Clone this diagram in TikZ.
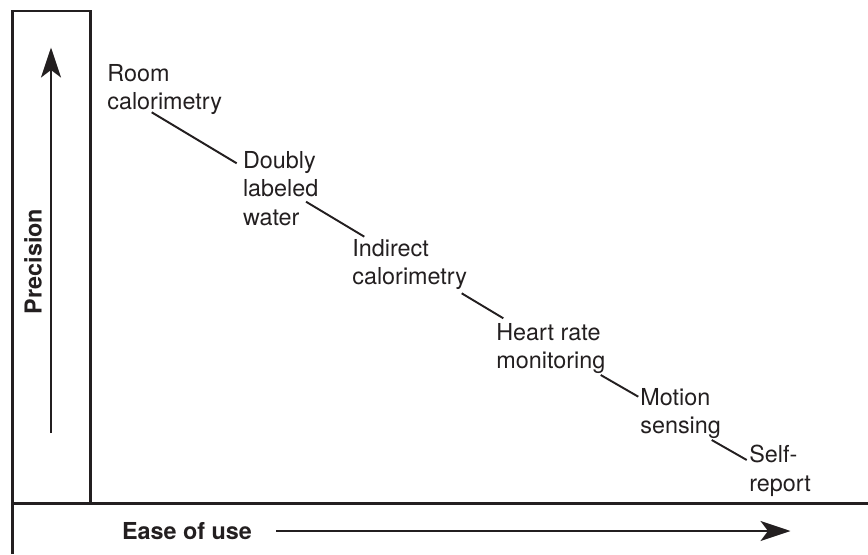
\documentclass[tikz,border=0pt]{standalone}
\usepackage{fontspec}
\setmainfont{TeX Gyre Heros}
\usetikzlibrary{arrows.meta, calc}
\definecolor{ink}{HTML}{231F20}

\begin{document}
\begin{tikzpicture}[
  lbl/.style={anchor=north west, inner sep=0pt, align=left, text=ink,
    font=\fontsize{13.3}{16.2}\selectfont},
  axlbl/.style={inner sep=0pt, text=ink, font=\fontsize{13.3}{16}\selectfont\bfseries},
  >={Stealth[length=6mm, width=4mm, inset=1.5mm]},
  frame/.style={draw=ink, line width=1.4pt},
  axis/.style={draw=ink, line width=1.3pt, ->},
  lead/.style={draw=ink, line width=1.1pt},
]

% Page size
\useasboundingbox (0,0) rectangle (17.36,11.08);

% Frame: tall box on the left, base line across the bottom
\draw[frame] (0.254,0) -- (0.254,10.86) -- (1.806,10.86) -- (1.806,1.014);
\draw[frame] (0.254,1.014) -- (17.36,1.014);

% Axes
\node[axlbl, rotate=90] (prec) at (0.66,5.85) {Precision};
\coordinate (ptail) at (1.02,2.42);
\coordinate (ptip) at (1.02,10.13);
\draw[axis] (ptail) -- (ptip);

\node[axlbl] (ease) at (3.74,0.46) {Ease of use};
\coordinate (etip) at (15.81,0.46);
\draw[axis] ($(ease.east)+(0.48,0)$) -- (etip);

% Methods, most precise first
\node[lbl] (room) at (2.14,9.80) {Room\\calorimetry};
\node[lbl] (doubly) at (4.854,8.066) {Doubly\\labeled\\water};
\node[lbl] (indirect) at (7.04,6.30) {Indirect\\calorimetry};
\node[lbl] (heart) at (9.92,4.626) {Heart rate\\monitoring};
\node[lbl] (motion) at (12.80,3.326) {Motion\\sensing};
\node[lbl] (self) at (14.98,2.18) {Self-\\report};

% Leaders between neighbours
\draw[lead] ($(room.north west)+(0.894,-0.966)$) -- ($(doubly.north west)+(-0.12,-0.252)$);
\draw[lead] ($(doubly.north west)+(1.266,-1.02)$) -- ($(indirect.north west)+(0.246,0.046)$);
\draw[lead] ($(indirect.north west)+(2.194,-1.086)$) -- ($(heart.north west)+(0.146,0.088)$);
\draw[lead] ($(heart.north west)+(2.094,-1.046)$) -- ($(motion.north west)+(-0.034,-0.18)$);
\draw[lead] ($(motion.north west)+(1.434,-1.046)$) -- ($(self.north west)+(-0.046,-0.30)$);
\end{tikzpicture}
\end{document}
